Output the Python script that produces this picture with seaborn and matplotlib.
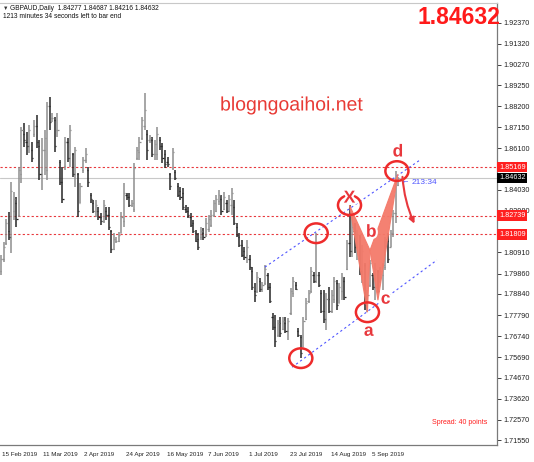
import matplotlib.pyplot as plt
import matplotlib.patheffects as pe
from matplotlib.patches import Ellipse, Polygon
from matplotlib.transforms import blended_transform_factory, ScaledTranslation
import seaborn as sns

sns.set_style("white")
plt.rcParams["font.family"] = ["Liberation Sans", "DejaVu Sans"]

# ===== 数据（日线 OHLC，按图估读） =====
highs = [
    1.8078, 1.8142, 1.8257, 1.8292, 1.8442, 1.8392, 1.8367, 1.8517, 1.8716, 1.8736,
    1.8691, 1.8726, 1.8641, 1.8751, 1.8776, 1.8651, 1.8661, 1.8701, 1.8841, 1.8866,
    1.8786, 1.8766, 1.8786, 1.8552, 1.8517, 1.8666, 1.8661, 1.8726, 1.8587, 1.8616,
    1.8487, 1.8437, 1.8567, 1.8611, 1.8517, 1.8387, 1.8352, 1.8352, 1.8317, 1.8287,
    1.8352, 1.8317, 1.8317, 1.8202, 1.8187, 1.8167, 1.8192, 1.8292, 1.8437, 1.8387,
    1.8387, 1.8352, 1.8537, 1.8616, 1.8666, 1.8766, 1.8886, 1.8701, 1.8676, 1.8666,
    1.8651, 1.8716, 1.8666, 1.8636, 1.8602, 1.8567, 1.8487, 1.8611, 1.8502, 1.8437,
    1.8417, 1.8412, 1.8327, 1.8317, 1.8287, 1.8252, 1.8202, 1.8187, 1.8217, 1.8212,
    1.8262, 1.8277, 1.8302, 1.8352, 1.8377, 1.8402, 1.8377, 1.8392, 1.8352, 1.8377,
    1.8412, 1.8352, 1.8237, 1.8187, 1.8152, 1.8117, 1.8152, 1.8078, 1.8018, 1.7938,
    1.7993, 1.7963, 1.7943, 1.8028, 1.7988, 1.7938, 1.7788, 1.7778, 1.7753, 1.7768,
    1.7768, 1.7768, 1.7763, 1.7913, 1.7968, 1.7943, 1.7713, 1.7678, 1.7768, 1.7863,
    1.7903, 1.8018, 1.7993, 1.8187, 1.7993, 1.7903, 1.7903, 1.7888, 1.7918, 1.7903,
    1.7968, 1.7953, 1.7938, 1.7988, 1.7968, 1.8152, 1.8327, 1.8267, 1.8237, 1.8202,
    1.8177, 1.8127, 1.8038, 1.7903, 1.8053, 1.7988, 1.8038, 1.8003, 1.8018, 1.8038,
    1.8167, 1.8187, 1.8202, 1.8302, 1.8497, 1.84687,
]
lows = [
    1.7978, 1.8043, 1.8127, 1.8152, 1.8088, 1.8252, 1.8217, 1.8267, 1.8437, 1.8616,
    1.8577, 1.8587, 1.8542, 1.8666, 1.8611, 1.8452, 1.8402, 1.8477, 1.8452, 1.8701,
    1.8741, 1.8592, 1.8666, 1.8427, 1.8337, 1.8502, 1.8542, 1.8517, 1.8467, 1.8417,
    1.8267, 1.8337, 1.8487, 1.8537, 1.8417, 1.8337, 1.8287, 1.8267, 1.8252, 1.8227,
    1.8237, 1.8252, 1.8202, 1.8088, 1.8102, 1.8137, 1.8142, 1.8187, 1.8217, 1.8352,
    1.8317, 1.8317, 1.8292, 1.8552, 1.8552, 1.8651, 1.8701, 1.8552, 1.8636, 1.8567,
    1.8552, 1.8552, 1.8602, 1.8537, 1.8512, 1.8517, 1.8402, 1.8502, 1.8452, 1.8367,
    1.8352, 1.8302, 1.8287, 1.8262, 1.8217, 1.8187, 1.8142, 1.8102, 1.8152, 1.8152,
    1.8167, 1.8192, 1.8217, 1.8267, 1.8292, 1.8327, 1.8277, 1.8302, 1.8287, 1.8292,
    1.8277, 1.8227, 1.8167, 1.8117, 1.8068, 1.8053, 1.8038, 1.8003, 1.7903, 1.7843,
    1.7888, 1.7893, 1.7893, 1.7928, 1.7903, 1.7838, 1.7703, 1.7618, 1.7668, 1.7668,
    1.7703, 1.7688, 1.7653, 1.7778, 1.7868, 1.7903, 1.7668, 1.7564, 1.7618, 1.7753,
    1.7838, 1.7888, 1.7938, 1.7938, 1.7918, 1.7788, 1.7738, 1.7703, 1.7788, 1.7788,
    1.7838, 1.7803, 1.7838, 1.7853, 1.7853, 1.8003, 1.8068, 1.8068, 1.8088, 1.8053,
    1.7978, 1.7938, 1.7803, 1.7793, 1.7918, 1.7903, 1.7853, 1.7888, 1.7938, 1.7903,
    1.8003, 1.8038, 1.8117, 1.8167, 1.8237, 1.84216,
]
opens = [
    1.8000, 1.8060, 1.8140, 1.8200, 1.8170, 1.8300, 1.8340, 1.8280, 1.8480, 1.8680,
    1.8640, 1.8620, 1.8600, 1.8680, 1.8720, 1.8620, 1.8480, 1.8600, 1.8500, 1.8820,
    1.8760, 1.8750, 1.8700, 1.8540, 1.8440, 1.8520, 1.8640, 1.8560, 1.8580, 1.8480,
    1.8480, 1.8340, 1.8500, 1.8550, 1.8500, 1.8380, 1.8340, 1.8300, 1.8300, 1.8270,
    1.8250, 1.8300, 1.8280, 1.8200, 1.8110, 1.8150, 1.8150, 1.8190, 1.8250, 1.8380,
    1.8370, 1.8330, 1.8310, 1.8560, 1.8590, 1.8660, 1.8720, 1.8680, 1.8650, 1.8650,
    1.8580, 1.8580, 1.8650, 1.8620, 1.8580, 1.8540, 1.8480, 1.8510, 1.8490, 1.8420,
    1.8400, 1.8390, 1.8310, 1.8300, 1.8270, 1.8240, 1.8190, 1.8160, 1.8170, 1.8190,
    1.8180, 1.8210, 1.8230, 1.8280, 1.8300, 1.8350, 1.8360, 1.8310, 1.8340, 1.8300,
    1.8330, 1.8320, 1.8220, 1.8170, 1.8130, 1.8100, 1.8080, 1.8060, 1.8000, 1.7900,
    1.7900, 1.7950, 1.7910, 1.7940, 1.7980, 1.7920, 1.7770, 1.7720, 1.7680, 1.7740,
    1.7710, 1.7740, 1.7700, 1.7790, 1.7890, 1.7930, 1.7700, 1.7670, 1.7620, 1.7760,
    1.7850, 1.7900, 1.7980, 1.7950, 1.7980, 1.7890, 1.7800, 1.7760, 1.7860, 1.7800,
    1.7860, 1.7940, 1.7840, 1.7900, 1.7950, 1.8010, 1.8140, 1.8100, 1.8200, 1.8120,
    1.8170, 1.8000, 1.8030, 1.7830, 1.7930, 1.7980, 1.7920, 1.8000, 1.7950, 1.7980,
    1.8020, 1.8150, 1.8120, 1.8190, 1.8290, 1.84277,
]
closes = [
    1.8060, 1.8120, 1.8240, 1.8170, 1.8400, 1.8360, 1.8260, 1.8500, 1.8700, 1.8650,
    1.8620, 1.8700, 1.8560, 1.8720, 1.8640, 1.8480, 1.8600, 1.8660, 1.8820, 1.8740,
    1.8760, 1.8620, 1.8700, 1.8440, 1.8360, 1.8640, 1.8560, 1.8700, 1.8480, 1.8600,
    1.8300, 1.8420, 1.8550, 1.8580, 1.8440, 1.8360, 1.8300, 1.8330, 1.8270, 1.8250,
    1.8330, 1.8280, 1.8220, 1.8110, 1.8160, 1.8150, 1.8180, 1.8270, 1.8390, 1.8370,
    1.8330, 1.8340, 1.8510, 1.8600, 1.8640, 1.8750, 1.8800, 1.8600, 1.8660, 1.8580,
    1.8630, 1.8680, 1.8620, 1.8560, 1.8530, 1.8530, 1.8420, 1.8590, 1.8460, 1.8380,
    1.8370, 1.8320, 1.8300, 1.8280, 1.8230, 1.8200, 1.8150, 1.8120, 1.8200, 1.8170,
    1.8240, 1.8260, 1.8280, 1.8340, 1.8360, 1.8380, 1.8300, 1.8370, 1.8300, 1.8360,
    1.8390, 1.8240, 1.8180, 1.8130, 1.8080, 1.8070, 1.8120, 1.8020, 1.7920, 1.7880,
    1.7970, 1.7910, 1.7930, 1.8010, 1.7920, 1.7850, 1.7720, 1.7650, 1.7740, 1.7690,
    1.7750, 1.7700, 1.7750, 1.7900, 1.7950, 1.7910, 1.7680, 1.7590, 1.7750, 1.7840,
    1.7890, 1.8000, 1.7950, 1.7980, 1.7930, 1.7800, 1.7760, 1.7860, 1.7800, 1.7880,
    1.7950, 1.7830, 1.7920, 1.7970, 1.7870, 1.8140, 1.8100, 1.8220, 1.8120, 1.8180,
    1.8000, 1.8100, 1.7830, 1.7880, 1.8040, 1.7920, 1.8010, 1.7900, 1.8000, 1.8030,
    1.8160, 1.8060, 1.8190, 1.8290, 1.8450, 1.84632,
]

date_ticks = [0, 16, 32, 48, 64, 80, 96, 112, 128, 144]
date_labels = ["15 Feb 2019", "11 Mar 2019", "2 Apr 2019", "24 Apr 2019", "16 May 2019",
               "7 Jun 2019", "1 Jul 2019", "23 Jul 2019", "14 Aug 2019", "5 Sep 2019"]
price_ticks = [1.92370, 1.91320, 1.90270, 1.89250, 1.88200, 1.87150, 1.86100, 1.84030,
               1.82980, 1.80910, 1.79860, 1.78840, 1.77790, 1.76740, 1.75690, 1.74670,
               1.73620, 1.72570, 1.71550]
level_lines = [1.85169, 1.82739, 1.81809]
last_price = 1.84632

# 通道线与形态点
upper_channel_x = [103, 163.5]
upper_channel_y = [1.8018, 1.8552]
lower_channel_x = [113.6, 170.1]
lower_channel_y = [1.7519, 1.8053]
circle_x = [117, 123, 136, 143, 154.5]
circle_y = [1.7564, 1.8187, 1.8327, 1.7793, 1.8497]
pattern_x = [136, 143, 144, 147.1, 154.9]
pattern_y = [1.8327, 1.7793, 1.8102, 1.7853, 1.8482]
pattern_names = ["X", "a", "b", "c", "d"]

W, H = 534, 462
fig = plt.figure(figsize=(W / 100, H / 100), dpi=100)
ax = fig.add_axes([0, 1 - 445 / H, 497 / W, 442 / H])
ax.set_xlim(-0.39, 193.56)
ax.set_ylim(1.7131, 1.9335)

# ---- 价格柱 ----
idx = list(range(len(highs)))
up_col, dn_col = "#8e8e8e", "#262626"
cols = [up_col if c >= o else dn_col for o, c in zip(opens, closes)]
ax.vlines(idx, lows, highs, colors=cols, linewidth=1.1, zorder=3)
ax.hlines(opens, [i - 0.45 for i in idx], idx, colors=cols, linewidth=0.9, zorder=3)
ax.hlines(closes, idx, [i + 0.45 for i in idx], colors=cols, linewidth=0.9, zorder=3)

# ---- 水平线 ----
for lv in level_lines:
    ax.axhline(lv, color="#e8383d", linewidth=0.8, linestyle=(0, (2, 2)), zorder=2)
ax.axhline(last_price, color="#c8c8c8", linewidth=0.8, zorder=1)

# ---- 通道 ----
sns.lineplot(x=upper_channel_x, y=upper_channel_y, ax=ax, color="#4f55ff",
             linewidth=0.8, linestyle=(0, (2, 2.5)), zorder=4)
sns.lineplot(x=lower_channel_x, y=lower_channel_y, ax=ax, color="#4f55ff",
             linewidth=0.8, linestyle=(0, (2, 2.5)), zorder=4)

# ---- 形态三角 ----
tri1 = [(pattern_x[0], pattern_y[0]), (pattern_x[1], pattern_y[1]), (pattern_x[2], pattern_y[2])]
tri2 = [(pattern_x[2], pattern_y[2]), (pattern_x[3], pattern_y[3]), (pattern_x[4], pattern_y[4])]
for tri in (tri1, tri2):
    ax.add_patch(Polygon(tri, closed=True, facecolor="#f47a6a", edgecolor="#f47a6a",
                         linewidth=0.8, alpha=0.95, zorder=5))

# ---- 红圈 ----
for cx, cy in zip(circle_x, circle_y):
    ax.add_patch(Ellipse((cx, cy), 9.0, 0.0098, fill=False, edgecolor="#ee2b2b",
                         linewidth=1.8, zorder=6))

# ---- 形态字母 ----
stroke = [pe.withStroke(linewidth=3, foreground="white")]
label_off = [(0, 0.0035), (0.5, -0.0095), (0.5, 0.0090), (3, 0.0005), (0, 0.0110)]
for (px, py), name, (dx, dy) in zip(zip(pattern_x, pattern_y), pattern_names, label_off):
    ax.text(px + dx, py + dy, name, color="#e8383d", fontsize=12.5, fontweight="bold",
            ha="center", va="center", path_effects=stroke, zorder=7)

# 箭头
ax.annotate("", xy=(161.8, 1.8222), xytext=(156.6, 1.8482),
            arrowprops=dict(arrowstyle="-|>", color="#e8383d", lw=1.5,
                            connectionstyle="arc3,rad=0.1", mutation_scale=8), zorder=7)
ax.text(156.2, last_price - 0.0022, "\u2190", color="#4f55ff", fontsize=5.5, va="center", zorder=7)
ax.text(160.2, last_price - 0.0022, "213:34", color="#4f55ff", fontsize=6, va="center", zorder=7)

# ---- 坐标轴 ----
ax.spines["left"].set_visible(False)
ax.spines["top"].set_color("#c8c8c8")
ax.spines["top"].set_linewidth(0.8)
for s in ["right", "bottom"]:
    ax.spines[s].set_color("#7a7a7a")
    ax.spines[s].set_linewidth(0.9)

ax.yaxis.tick_right()
ax.set_yticks(price_ticks)
ax.set_yticklabels([f"{p:.5f}" for p in price_ticks], fontsize=5.2)
ax.tick_params(axis="y", direction="out", length=3, width=0.6, pad=1.5, colors="#222222")

ax.set_xticks(date_ticks)
ax.set_xticklabels(date_labels, fontsize=4.5, ha="left")
ax.tick_params(axis="x", direction="out", length=3, width=0.6, pad=2, colors="#222222")
for lab in ax.get_xticklabels():
    lab.set_transform(lab.get_transform() + ScaledTranslation(1.5 / 100, 0, fig.dpi_scale_trans))

# 右侧价格标签框
tr = blended_transform_factory(ax.transAxes, ax.transData)
for lv in level_lines:
    ax.text(1.004, lv, f"{lv:.5f}", transform=tr, fontsize=5.2, color="white", va="center",
            ha="left", clip_on=False, zorder=10,
            bbox=dict(boxstyle="square,pad=0.25", facecolor="#ff2020", edgecolor="none"))
ax.text(1.004, last_price, f"{last_price:.5f}", transform=tr, fontsize=5.2, color="white",
        va="center", ha="left", clip_on=False, zorder=10,
        bbox=dict(boxstyle="square,pad=0.25", facecolor="black", edgecolor="none"))

# ---- 文字 ----
fig.text(3 / W, 1 - 8 / H, "\u25bc", fontsize=4, color="#333333", va="center")
fig.text(10 / W, 1 - 8 / H, "GBPAUD,Daily  1.84277 1.84687 1.84216 1.84632",
         fontsize=4.8, color="#111111", va="center")
fig.text(3 / W, 1 - 16 / H, "1213 minutes 34 seconds left to bar end",
         fontsize=4.8, color="#111111", va="center")
fig.text(500 / W, 1 - 17 / H, f"{last_price:.5f}", fontsize=16.5, fontweight="bold",
         color="#ff1a1a", ha="right", va="center")
fig.text(292 / W, 1 - 106 / H, "blogngoaihoi.net", fontsize=14, color="#e83a35",
         ha="center", va="center",
         path_effects=[pe.withStroke(linewidth=2.5, foreground="white")])
fig.text(487 / W, 1 - 422 / H, "Spread: 40 points", fontsize=5, color="#ff2020",
         ha="right", va="center")

fig.savefig("out.png", dpi=100)
